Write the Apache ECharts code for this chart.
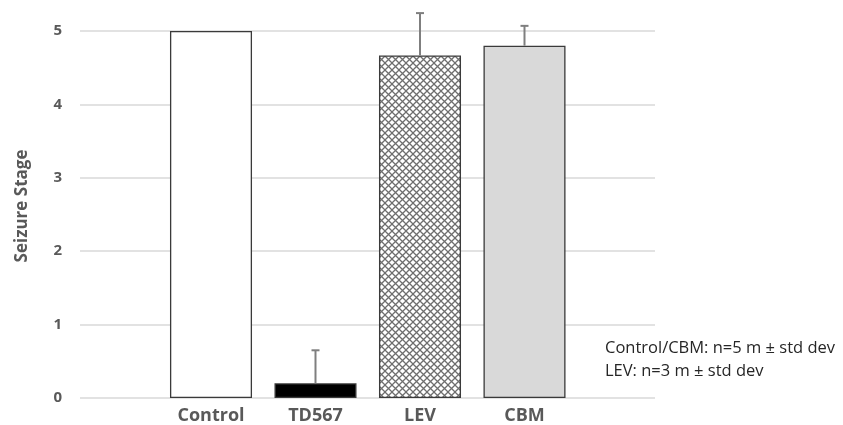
<!DOCTYPE html>
<html>
<head>
<meta charset="utf-8">
<script src="https://cdn.jsdelivr.net/npm/echarts@6/dist/echarts.min.js"></script>
<style>
  html, body { margin: 0; padding: 0; background: #ffffff; }
  #chart { width: 843px; height: 425px; }
</style>
</head>
<body>
<div id="chart"></div>
<script>
// Seizure stage per treatment group (mean ± std dev)
const categories = ['Control', 'TD567', 'LEV', 'CBM'];
const means = [5, 0.2, 4.667, 4.8];
const stdDevs = [0, 0.45, 0.577, 0.27];
const yTicks = [0, 1, 2, 3, 4, 5];
const yTitle = 'Seizure Stage';
const noteLines = ['Control/CBM: n=5 m \u00b1 std dev', 'LEV: n=3 m \u00b1 std dev'];

const FONT = '"Open Sans", Lato, sans-serif';
const LABEL_GRAY = '#595959';

// Cross-hatch fill used for the LEV bar
function makeHatch() {
  const c = document.createElement('canvas');
  const s = 7;
  c.width = s; c.height = s;
  const ctx = c.getContext('2d');
  ctx.fillStyle = '#ffffff';
  ctx.fillRect(0, 0, s, s);
  ctx.strokeStyle = '#6e6e6e';
  ctx.lineWidth = 1.3;
  ctx.beginPath();
  ctx.moveTo(-1, -1); ctx.lineTo(s + 1, s + 1);
  ctx.moveTo(s + 1, -1); ctx.lineTo(-1, s + 1);
  ctx.stroke();
  return c;
}

const fills = ['#ffffff', '#000000', { image: makeHatch(), repeat: 'repeat' }, '#d9d9d9'];

const chart = echarts.init(document.getElementById('chart'), null, { renderer: 'canvas' });

chart.setOption({
  animation: false,
  backgroundColor: '#ffffff',
  grid: [
    { left: 80, right: 188, top: 31, bottom: 27 },
    { left: 158.75, width: 418, top: 31, bottom: 27 }
  ],
  xAxis: [
    { gridIndex: 0, type: 'value', show: false, min: 0, max: 1 },
    {
      gridIndex: 1, type: 'category', data: categories,
      axisLine: { show: false }, axisTick: { show: false },
      axisLabel: { color: LABEL_GRAY, fontFamily: FONT, fontWeight: 'bold', fontSize: 18, margin: 9 }
    }
  ],
  yAxis: [
    {
      gridIndex: 0, type: 'value', min: yTicks[0], max: yTicks[yTicks.length - 1], interval: 1,
      axisLine: { show: false }, axisTick: { show: false },
      axisLabel: { color: LABEL_GRAY, fontFamily: FONT, fontWeight: 'bold', fontSize: 15, margin: 18 },
      splitLine: { lineStyle: { color: '#d9d9d9', width: 1.5 } }
    },
    { gridIndex: 1, type: 'value', min: 0, max: 5, show: false, splitLine: { show: false } }
  ],
  series: [
    {
      type: 'bar', xAxisIndex: 1, yAxisIndex: 1, barWidth: '78.5%',
      data: means.map((v, i) => ({
        value: v,
        itemStyle: { color: fills[i], borderColor: '#3a3a3a', borderWidth: 1.3 }
      })),
      z: 2
    },
    {
      type: 'custom', xAxisIndex: 1, yAxisIndex: 1, z: 3,
      data: means.map((v, i) => [i, v, stdDevs[i]]),
      renderItem: function (params, api) {
        const sd = api.value(2);
        if (!sd) return null;
        const top = api.coord([api.value(0), api.value(1) + sd]);
        const base = api.coord([api.value(0), api.value(1)]);
        const style = { stroke: '#7f7f7f', lineWidth: 2 };
        return {
          type: 'group',
          children: [
            { type: 'line', shape: { x1: top[0], y1: top[1], x2: base[0], y2: base[1] }, style },
            { type: 'line', shape: { x1: top[0] - 4, y1: top[1], x2: top[0] + 4, y2: top[1] }, style }
          ]
        };
      }
    }
  ],
  graphic: [
    {
      type: 'text', x: 22, y: 206, rotation: Math.PI / 2,
      style: {
        text: yTitle, fill: LABEL_GRAY, font: 'bold 17px ' + FONT,
        align: 'center', verticalAlign: 'middle'
      }
    },
    {
      type: 'text', left: 605, top: 337,
      style: {
        text: noteLines.join('\n'), fill: '#262626',
        font: '16.5px ' + FONT, lineHeight: 23
      }
    }
  ]
});
</script>
</body>
</html>
